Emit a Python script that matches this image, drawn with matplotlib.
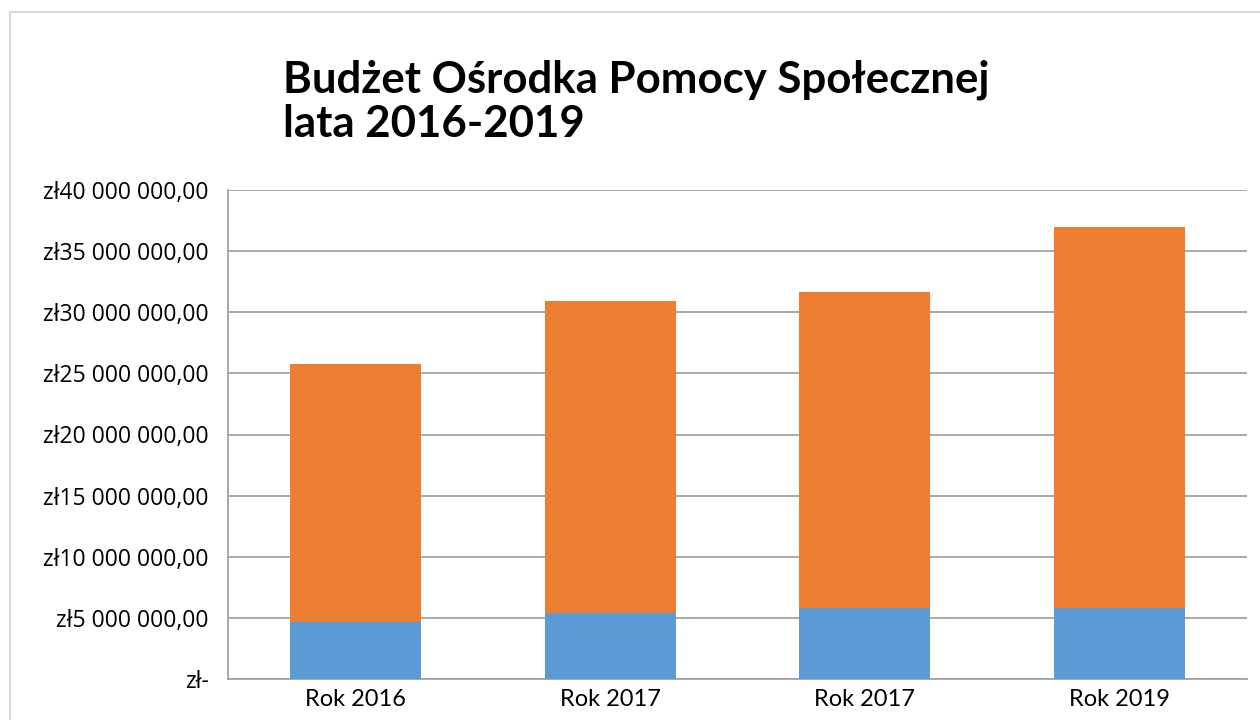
import matplotlib.pyplot as plt
from matplotlib.patches import Rectangle
from matplotlib.ticker import FuncFormatter

# data
categories = ["Rok 2016", "Rok 2017", "Rok 2017", "Rok 2019"]
lower = [4_680_000, 5_390_000, 5_830_000, 5_830_000]
total = [25_740_000, 30_960_000, 31_620_000, 37_000_000]
upper = [t - l for t, l in zip(total, lower)]

BLUE = "#5B9BD5"
ORANGE = "#ED7D31"
GRID = "#A3A3A3"


def pln(v, pos):
    if v == 0:
        return "zł-"
    s = f"{v:,.2f}".replace(",", " ").replace(".", ",")
    return "zł" + s


def main():
    plt.rcParams["font.family"] = ["Open Sans", "DejaVu Sans"]
    narrow = ["Lato", "DejaVu Sans"]

    fig = plt.figure(figsize=(12.6, 7.2), dpi=100)
    ax = fig.add_axes([228 / 1260, 1 - 679 / 720, 1019 / 1260, 489 / 720])

    x = range(len(categories))
    ax.bar(x, lower, width=0.515, color=BLUE, zorder=3)
    ax.bar(x, upper, width=0.515, bottom=lower, color=ORANGE, zorder=3)

    ax.set_xlim(-0.5, len(categories) - 0.5)
    ax.set_ylim(0, 40_000_000)
    ax.set_yticks(range(0, 40_000_001, 5_000_000))
    ax.yaxis.set_major_formatter(FuncFormatter(pln))
    ax.set_xticks(list(x))
    ax.set_xticklabels(categories, family=narrow, fontsize=17)

    ax.grid(axis="y", color=GRID, linewidth=1.3, zorder=0)
    for side in ["top", "right"]:
        ax.spines[side].set_visible(False)
    for side in ["left", "bottom"]:
        ax.spines[side].set_color(GRID)
        ax.spines[side].set_linewidth(1.3)
    ax.tick_params(axis="both", length=0, colors="black")
    ax.tick_params(axis="y", labelsize=16.5, pad=14)
    ax.tick_params(axis="x", pad=7)

    fig.text(283 / 1260, 1 - 93 / 720, "Budżet Ośrodka Pomocy Społecznej",
             family=narrow, fontweight="bold", fontsize=31.5,
             ha="left", va="baseline")
    fig.text(283 / 1260, 1 - 137 / 720, "lata 2016-2019",
             family=narrow, fontweight="bold", fontsize=31.5,
             ha="left", va="baseline")

    # outer chart frame
    fig.patches.append(Rectangle((10 / 1260, -0.05), 1.1, 1 - 12 / 720 + 0.05,
                                 transform=fig.transFigure, fill=False,
                                 edgecolor="#D9D9D9", linewidth=1.5))

    fig.savefig("out.png", dpi=100)


if __name__ == "__main__":
    main()
